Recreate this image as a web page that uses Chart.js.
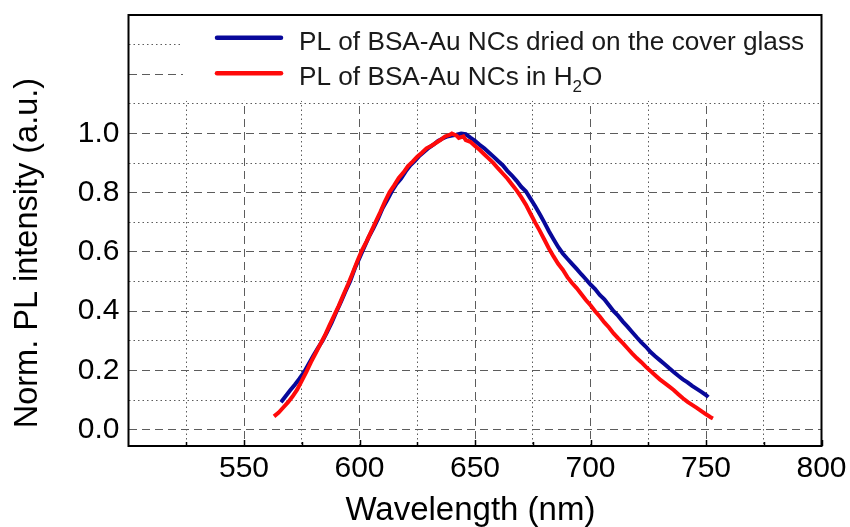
<!DOCTYPE html>
<html>
<head>
<meta charset="utf-8">
<script src="https://cdn.jsdelivr.net/npm/chart.js@4.4.1/dist/chart.umd.min.js"></script>
<style>
  html, body { margin: 0; padding: 0; background: #fff; }
  #chart { display: block; }
</style>
</head>
<body>
<canvas id="chart" width="850" height="527"></canvas>
<script>
'use strict';

/* ---- Data: PL spectra ---- */
const driedNm = [
  566, 568, 570, 572, 574, 576, 578, 580, 582, 584, 586, 588, 590, 592, 594, 596, 598,
  600, 602, 604, 606, 608, 610, 612, 614, 616, 618, 620, 622, 624, 626, 628, 630, 632,
  634, 636, 638, 640, 642, 644, 646, 648, 650, 652, 654, 656, 658, 660, 662, 664, 666,
  668, 670, 672, 674, 676, 678, 680, 682, 684, 686, 688, 690, 692, 694, 696, 698, 700,
  702, 704, 706, 708, 710, 712, 714, 716, 718, 720, 722, 724, 726, 728, 730, 732, 734,
  736, 738, 740, 742, 744, 746, 748, 750, 751
];
const driedPL = [
  0.093, 0.113, 0.133, 0.152, 0.172, 0.194, 0.222, 0.250, 0.276, 0.300, 0.330, 0.362, 0.398, 0.432, 0.468, 0.502, 0.545,
  0.580, 0.615, 0.650, 0.680, 0.712, 0.748, 0.775, 0.805, 0.830, 0.848, 0.872, 0.893, 0.908, 0.925, 0.938, 0.952, 0.962,
  0.975, 0.983, 0.990, 0.993, 0.996, 1.000, 0.998, 0.986, 0.975, 0.962, 0.950, 0.936, 0.922, 0.907, 0.893, 0.874, 0.858,
  0.840, 0.820, 0.805, 0.780, 0.755, 0.728, 0.700, 0.670, 0.643, 0.617, 0.595, 0.577, 0.560, 0.543, 0.525, 0.508, 0.490,
  0.475, 0.455, 0.440, 0.420, 0.400, 0.384, 0.365, 0.348, 0.330, 0.312, 0.295, 0.280, 0.262, 0.248, 0.235, 0.222, 0.208,
  0.195, 0.182, 0.170, 0.160, 0.148, 0.138, 0.128, 0.117, 0.110
];

const waterNm = [
  563, 565, 567, 569, 571, 573, 575, 577, 579, 581, 583, 585, 587, 589, 591, 593, 595, 597,
  599, 601, 603, 605, 607, 609, 611, 613, 615, 617, 619, 621, 623, 625, 627, 629, 631, 633,
  635, 637, 639, 640, 642, 643, 645, 646, 648, 650, 652, 654, 656, 658, 660, 662, 664, 666,
  668, 670, 672, 674, 676, 678, 680, 682, 684, 686, 688, 690, 692, 694, 696, 698, 700, 702,
  704, 706, 708, 710, 712, 714, 716, 718, 720, 722, 724, 726, 728, 730, 732, 734, 736, 738,
  740, 742, 744, 746, 748, 750, 752, 753
];
const waterPL = [
  0.045, 0.058, 0.075, 0.092, 0.112, 0.135, 0.165, 0.195, 0.228, 0.258, 0.288, 0.318, 0.352, 0.385, 0.418, 0.455, 0.490, 0.528,
  0.568, 0.605, 0.635, 0.668, 0.702, 0.735, 0.770, 0.802, 0.825, 0.850, 0.868, 0.890, 0.905, 0.922, 0.935, 0.950, 0.958, 0.968,
  0.978, 0.990, 0.995, 1.000, 0.993, 0.985, 0.990, 0.978, 0.972, 0.958, 0.945, 0.930, 0.915, 0.900, 0.882, 0.865, 0.848, 0.828,
  0.808, 0.785, 0.760, 0.730, 0.700, 0.672, 0.642, 0.612, 0.585, 0.560, 0.540, 0.515, 0.495, 0.478, 0.458, 0.438, 0.420, 0.400,
  0.382, 0.362, 0.345, 0.325, 0.308, 0.292, 0.275, 0.258, 0.242, 0.228, 0.212, 0.198, 0.184, 0.170, 0.158, 0.146, 0.134, 0.120,
  0.106, 0.094, 0.084, 0.074, 0.063, 0.052, 0.042, 0.038
];

/* ---- Axes ---- */
const wavelengthTicks  = [525, 550, 575, 600, 625, 650, 675, 700, 725, 750, 775, 800];
const wavelengthMajor  = [550, 600, 650, 700, 750, 800];
const intensityTicks   = [0, 0.1, 0.2, 0.3, 0.4, 0.5, 0.6, 0.7, 0.8, 0.9, 1.0, 1.1, 1.2, 1.3];
const intensityMajor   = [0, 0.2, 0.4, 0.6, 0.8, 1.0, 1.2];
const intensityLabels  = [0, 0.2, 0.4, 0.6, 0.8, 1.0];

const legendEntries = [
  { color: '#08089a', parts: [['PL of BSA-Au NCs dried on the cover glass', false]] },
  { color: '#ff0a0a', parts: [['PL of BSA-Au NCs in H', false], ['2', true], ['O', false]] }
];

const FONT = '"Liberation Sans", Arial, Helvetica, sans-serif';
const GRID_COLOR = '#5c5c5c';
const DASHED = [8, 5];
const DOTTED = [1.5, 3];

const toPoints = (xs, ys) => xs.map((x, i) => ({ x, y: ys[i] }));

/* ---- Frame, inward ticks and in-plot legend ---- */
const framePlugin = {
  id: 'frame',
  beforeDatasetsDraw(chart) {
    const { ctx, chartArea: a, scales } = chart;
    // white legend panel hides the upper grid lines
    const bottom = scales.y.getPixelForValue(1.1) - 3;
    ctx.save();
    ctx.fillStyle = '#fff';
    ctx.fillRect(183, a.top, a.right - 183, bottom - a.top);
    ctx.restore();
  },
  afterDatasetsDraw(chart) {
    const { ctx, chartArea: a, scales } = chart;
    ctx.save();

    // tick marks pointing into the plot
    ctx.strokeStyle = '#000';
    ctx.lineWidth = 1.5;
    wavelengthTicks.forEach(v => {
      const px = Math.round(scales.x.getPixelForValue(v)) + 0.5;
      const len = wavelengthMajor.includes(v) ? 6 : 4;
      ctx.beginPath();
      ctx.moveTo(px, a.bottom);
      ctx.lineTo(px, a.bottom - len);
      ctx.stroke();
    });

    // frame
    ctx.lineWidth = 2;
    ctx.strokeRect(a.left, a.top, a.right - a.left, a.bottom - a.top);

    // legend
    const rows = [37.7, 73.3];
    legendEntries.forEach((entry, i) => {
      const y = rows[i];
      ctx.strokeStyle = entry.color;
      ctx.lineWidth = 4.5;
      ctx.lineCap = 'round';
      ctx.beginPath();
      ctx.moveTo(217, y);
      ctx.lineTo(281, y);
      ctx.stroke();

      ctx.fillStyle = '#1a1a1a';
      ctx.textBaseline = 'alphabetic';
      ctx.textAlign = 'left';
      let x = 299;
      const base = y + 11.8;
      entry.parts.forEach(([text, sub]) => {
        ctx.font = (sub ? '17px ' : '26.2px ') + FONT;
        ctx.fillText(text, x, sub ? base + 7 : base);
        x += ctx.measureText(text).width;
      });
    });
    ctx.restore();
  }
};

const ctx = document.getElementById('chart');

new Chart(ctx, {
  type: 'line',
  data: {
    datasets: [
      {
        label: 'PL of BSA-Au NCs dried on the cover glass',
        data: toPoints(driedNm, driedPL),
        borderColor: legendEntries[0].color,
        borderWidth: 4,
        pointRadius: 0,
        tension: 0,
        order: 2
      },
      {
        label: 'PL of BSA-Au NCs in H\u2082O',
        data: toPoints(waterNm, waterPL),
        borderColor: legendEntries[1].color,
        borderWidth: 4,
        pointRadius: 0,
        tension: 0,
        order: 1
      }
    ]
  },
  options: {
    responsive: false,
    animation: false,
    devicePixelRatio: 1,
    layout: { padding: { top: 15, right: 28.5, bottom: 0, left: 0 } },
    plugins: {
      legend: { display: false },
      tooltip: { enabled: false }
    },
    scales: {
      x: {
        type: 'linear',
        min: 500,
        max: 800,
        afterBuildTicks: scale => { scale.ticks = wavelengthTicks.map(value => ({ value })); },
        afterFit: scale => {
          scale.height = 81;
          scale.paddingLeft = 0;
          scale.paddingRight = 0;
        },
        grid: { color: GRID_COLOR, lineWidth: 1, drawTicks: false },
        border: {
          display: false,
          dash: c => (c.tick && wavelengthMajor.includes(c.tick.value) ? DASHED : DOTTED)
        },
        ticks: {
          autoSkip: false,
          maxRotation: 0,
          padding: 5,
          color: '#000',
          font: { family: FONT, size: 30, lineHeight: 1.2 },
          callback: v => (wavelengthMajor.includes(v) ? String(v) : '')
        },
        title: {
          display: true,
          text: 'Wavelength (nm) ',
          color: '#000',
          font: { family: FONT, size: 33, lineHeight: 1 },
          padding: { top: 0, bottom: 0 }
        }
      },
      y: {
        type: 'linear',
        min: -0.055,
        max: 1.4,
        afterBuildTicks: scale => { scale.ticks = intensityTicks.map(value => ({ value })); },
        afterFit: scale => {
          scale.width = 128.5;
          scale.paddingTop = 0;
          scale.paddingBottom = 0;
        },
        grid: { color: GRID_COLOR, lineWidth: 1, drawTicks: false },
        border: {
          display: false,
          dash: c => (c.tick && intensityMajor.includes(c.tick.value) ? DASHED : DOTTED)
        },
        ticks: {
          autoSkip: false,
          padding: 9,
          color: '#000',
          font: { family: FONT, size: 30 },
          callback: v => (intensityLabels.includes(v) ? v.toFixed(1) : '')
        },
        title: {
          display: true,
          text: 'Norm. PL intensity (a.u.)     ',
          color: '#000',
          font: { family: FONT, size: 32.5, lineHeight: 1 },
          padding: { top: 12, bottom: 0 }
        }
      }
    }
  },
  plugins: [framePlugin]
});
</script>
</body>
</html>
